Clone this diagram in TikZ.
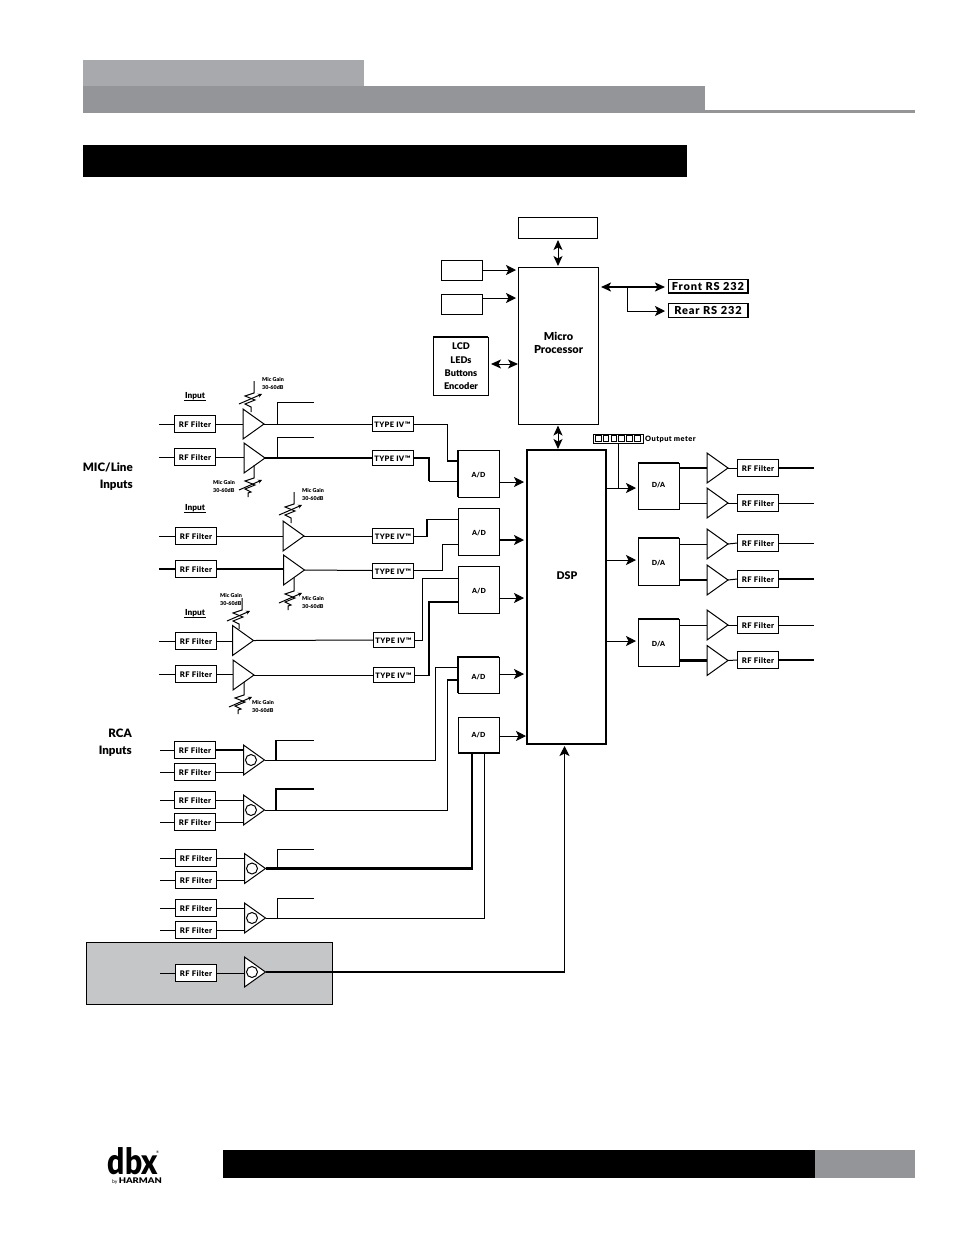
\documentclass[tikz,border=0pt]{standalone}
\usepackage{fontspec}
\setmainfont{Lato}[BoldFont={Lato Black}]
\usetikzlibrary{arrows.meta,shapes.geometric}
\definecolor{hdrA}{HTML}{A7A9AC}
\definecolor{hdrB}{HTML}{939598}
\definecolor{panel}{HTML}{C5C6C8}
\newcommand{\rheoT}[2]{\draw[thin line,shift={(#1,#2)}] (4,-18) -- (4,-6) -- (-5,-3) -- (5,1) -- (-5,5) -- (1,8) -- (1,13);
  \draw[thin line,-{Stealth[length=4,width=4]},shift={(#1,#2)}] (-11,5) -- (12,-5);}
\newcommand{\rheoB}[2]{\draw[thin line,shift={(#1,#2)}] (4,-20) -- (4,-7) -- (-5,-4) -- (5,0) -- (-5,4) -- (1,7) -- (-2,8) -- (-2,12);
  \draw[thin line,-{Stealth[length=4,width=4]},shift={(#1,#2)}] (-11,5) -- (12,-5);}
\tikzset{
  thin line/.style={line width=1pt,draw=black},
  fat line/.style={line width=2.2pt,draw=black},
  edge line/.style={line width=1.8pt,draw=black},
  head/.style={-{Stealth[length=10,width=10,inset=2.5]}},
  both/.style={{Stealth[length=10,width=9,inset=2.5]}-{Stealth[length=10,width=9,inset=2.5]}},
  box/.style={draw=black,line width=1pt,inner sep=0,outer sep=0,fill=white},
  rf/.style={box,minimum width=41,minimum height=17,text height=7.2pt,text depth=0pt,font=\fontsize{7.7}{9}\selectfont\bfseries\addfontfeature{LetterSpace=5}},
  typeiv/.style={box,minimum width=41,minimum height=15,text height=7.2pt,text depth=0pt,font=\fontsize{7.5}{9}\selectfont\bfseries\addfontfeature{LetterSpace=5}},
  conv/.style={box,minimum width=41,text height=8pt,text depth=0pt,font=\fontsize{7}{9}\selectfont\bfseries},
  amp/.style={isosceles triangle,isosceles triangle stretches,draw=black,line width=1pt,inner sep=0,outer sep=0,
    minimum width=30,minimum height=21,fill=white,anchor=apex},
  circ/.style={circle,draw=black,line width=1pt,inner sep=0,minimum size=11},
  gain/.style={font=\fontsize{5.4}{8}\selectfont\bfseries,align=left,inner sep=0},
  inlab/.style={font=\fontsize{8.3}{9}\selectfont\bfseries,inner sep=1},
  big/.style={font=\fontsize{11.6}{17}\selectfont\bfseries,align=right,inner sep=0},
  rs/.style={box,line width=1pt,minimum width=80,minimum height=13.5,text height=8.8pt,text depth=0pt,font=\fontsize{11}{12}\selectfont\bfseries\addfontfeature{LetterSpace=8}},
  seg/.style={draw=black,line width=1pt,minimum size=5.5,inner sep=0},
}
\begin{document}
\begin{tikzpicture}[x=1pt,y=-1pt]
\useasboundingbox (0,0) rectangle (954,1235);
% header and footer
\fill[hdrA] (83,60) rectangle (364,86);
\fill[hdrB] (83,86) rectangle (705,112.5);
\fill[hdrB] (705,110) rectangle (915,113);
\fill[black] (83,145) rectangle (687,177);
\fill[black] (223,1150) rectangle (815,1178);
\fill[hdrB] (815,1150) rectangle (915,1178);
\node[inner sep=0,font=\fontsize{30}{30}\selectfont\bfseries] (logo) at (133,1161) {\scalebox{1}[1.2]{dbx}};
\node[inner sep=0,font=\fontsize{3.5}{4}\selectfont] (logor) at (157.5,1152) {®};
\node[inner sep=0,anchor=east,font=\fontsize{7.8}{7.8}\selectfont] (logoh) at (162,1181) {{\fontsize{5}{5}\selectfont by }\scalebox{1.2}[1]{\textbf{HARMAN}}};
% gray panel
\draw[thin line,fill=panel] (86.5,942) rectangle (332.5,1004.5);
% left labels
\node[big,anchor=east] (miclab) at (133,476.5) {MIC/Line\\Inputs};
\node[big,anchor=east] (rcalab) at (132,742.5) {RCA\\Inputs};
\foreach \n/\y in {1/396,2/508,3/613}{
  \node[inlab] (inp\n) at (195,\y) {Input};
  \draw[thin line] (inp\n.south west) -- (inp\n.south east);
}
% input RF filters
\foreach \n/\x/\y in {1/195/424,2/195/457,3/196/536,4/196/569,5/196/641,6/196/674,
  7/195/750,8/195/772,9/195/800,10/195/822,11/196/858,12/196/880,13/196/908,14/196/930,15/196/973}{
  \node[rf] (r\n) at (\x,\y) {RF Filter};
}
% input amplifiers
\foreach \n/\x/\y in {1/264/424,2/265/458,3/304/536,4/304.5/570,5/253.5/640.5,6/254/675,
  7/264.5/760,8/264.5/810,9/265.5/868.5,10/265.5/918,11/265.5/972}{
  \node[amp] (a\n) at (\x,\y) {};
}
\foreach \n/\x/\y in {7/251/760,8/251/810,9/252/868.5,10/252/918,11/252/972}{
  \node[circ] (c\n) at (\x,\y) {};
}
% input wires
\foreach \n/\a in {1/1,2/2,3/3,5/5,6/6}{
  \coordinate (s\n) at (159,0);
  \draw[thin line] (s\n |- r\n.west) -- (r\n.west);
  \draw[thin line] (r\n.east) -- (a\a.west |- r\n.east);
}
\coordinate (s4) at (159,0);
\draw[fat line] (s4 |- r4.west) -- (r4.west);
\draw[fat line] (r4.east) -- (a4.west |- r4.east);
\foreach \n/\a in {7/7,8/7,9/8,10/8,11/9,12/9,13/10,14/10,15/11}{
  \coordinate (s\n) at (160,0);
  \draw[thin line] (s\n |- r\n.west) -- (r\n.west);
  \draw[thin line] (r\n.east) -- (a\a.west |- r\n.east);
}
\draw[fat line] (r7.east) -- (a7.west |- r7.east);
% gain controls
\rheoT{250}{399}
\rheoB{250}{485}
\rheoT{290}{510}
\rheoB{290}{598}
\rheoT{238}{616}
\rheoB{240}{702}
\node[gain,anchor=west] (g1) at (262,383) {Mic Gain\\30-60dB};
\node[gain,anchor=west] (g2) at (213,486.5) {Mic Gain\\30-60dB};
\node[gain,anchor=west] (g3) at (302,494.5) {Mic Gain\\30-60dB};
\node[gain,anchor=west] (g4) at (302,602) {Mic Gain\\30-60dB};
\node[gain,anchor=west] (g5) at (220,599) {Mic Gain\\30-60dB};
\node[gain,anchor=west] (g6) at (252,706) {Mic Gain\\30-60dB};
% Type IV
\foreach \n/\x/\y in {1/392.5/424,2/392.5/458,3/393/536,4/393/570.5,5/393.5/640,6/393.5/675}{
  \node[typeiv] (t\n) at (\x,\y) {TYPE IV™};
}
\draw[thin line] (a1.apex) -- (t1.west);
\draw[fat line] (a2.apex) -- (t2.west);
\draw[thin line] (a3.apex) -- (t3.west);
\draw[thin line] (a4.apex) -- (t4.west);
\draw[thin line] (a5.apex) -- (t5.west);
\draw[thin line] (a6.apex) -- (t6.west);
% branch stubs
\foreach \n/\x/\j/\t in {1/277/424/402,2/277/458/437,7/276/760/740,8/276/810/789,9/277/868.5/849,10/277/918/898}{
  \coordinate (j\n) at (\x,\j);
  \coordinate (e\n) at (314,\t);
}
\draw[thin line] (j1) |- (e1);
\draw[thin line] (j2) |- (e2);
\draw[fat line] (j7) -- (j7 |- e7);
\draw[thin line] (j7 |- e7) -- (e7);
\draw[fat line] (j8) |- (e8);
\draw[thin line] (j9) |- (e9);
\draw[thin line] (j10) |- (e10);
% A/D converters
\node[conv,minimum height=47] (ad1) at (478.5,473.5) {A/D};
\node[conv,minimum height=47] (ad2) at (479,531.5) {A/D};
\node[conv,minimum height=47] (ad3) at (479,589.5) {A/D};
\node[conv,minimum height=36] (ad4) at (478.5,675) {A/D};
\node[conv,minimum height=36,text height=5pt] (ad5) at (478.5,735) {A/D};
\draw[edge line] (ad1.south west) -- (ad1.north west);
\draw[edge line] (ad4.south west) -- (ad4.north west) -- (ad4.north east);
\draw[edge line] (ad5.south west) -- (ad5.south east);
% Type IV to A/D
\draw[thin line] (t1.east) -- (447,424) -- (447,461);
\draw[fat line] (447,461) -- (ad1.west |- 0,461);
\draw[fat line] (t2.east) -- (429,458) -- (429,481);
\draw[thin line] (429,481) -- (ad1.west |- 0,481);
\draw[thin line] (t3.east) -- (427,536);
\draw[fat line] (427,537) -- (427,519);
\draw[thin line] (427,519) -- (ad2.west |- 0,519);
\draw[thin line] (t4.east) -- (442,570.5) -- (442,544) -- (ad2.west |- 0,544);
\draw[thin line] (t5.east) -- (422,640) -- (422,578) -- (ad3.west |- 0,578);
\draw[thin line] (t6.east) -- (429,675);
\draw[fat line] (429,676) -- (429,602) -- (ad3.west |- 0,602);
% RCA amps to A/D
\draw[thin line] (a7.apex) -- (435,760) -- (435,667) -- (ad4.west |- 0,667);
\draw[thin line] (a8.apex) -- (447,810) -- (447,680);
\draw[fat line] (447,680) -- (ad4.west |- 0,680);
\draw[fat line] (a9.apex) -- (472,868.5) -- (472,753);
\draw[thin line] (a10.apex) -- (484,918) -- (484,753);
% DSP
\node[box,draw=none,minimum width=79,minimum height=294] (dsp) at (566.5,597) {};
\draw[edge line,line width=2pt] (dsp.north west) rectangle (dsp.south east);
\node[inner sep=0,font=\fontsize{10.6}{12}\selectfont\bfseries] (dsplab) at (567,575.5) {DSP};
\draw[thin line,head] (ad1.east |- 0,482) -- (524,482);
\draw[fat line,head] (ad2.east |- 0,540) -- (524,540);
\draw[thin line,head] (ad3.east |- 0,598) -- (524,598);
\draw[thin line,head] (ad4.east |- 0,674) -- (524,674);
\draw[thin line,head] (ad5.east |- 0,736) -- (526,736);
\draw[fat line] (a11.apex) -- (564.5,972);
\draw[thin line,head] (564.5,973) -- (564.5,746);
% Microprocessor section
\node[box,minimum width=80,minimum height=157] (micro) at (558,345.5) {};
\node[inner sep=0,align=center,font=\fontsize{11}{13}\selectfont\bfseries] (microlab) at (558.5,343) {Micro\\Processor};
\node[box,minimum width=79,minimum height=21] (top) at (558,227.5) {};
\node[box,minimum width=41,minimum height=20] (sm1) at (461.5,270) {};
\node[box,minimum width=41,minimum height=20] (sm2) at (461.5,304) {};
\node[box,minimum width=55,minimum height=58] (lcd) at (460.5,366) {};
\node[inner sep=0,align=center,font=\fontsize{9.2}{13.3}\selectfont\bfseries] (lcdlab) at (461,366.5) {LCD\\LEDs\\Buttons\\Encoder};
\draw[edge line] (lcd.north west) -- (lcd.north east);
\draw[thin line,both] (558,240) -- (558,266);
\draw[thin line,both] (558,425.5) -- (558,449);
\draw[thin line,head] (sm1.east) -- (516,270);
\draw[thin line,head] (sm2.east |- 0,298) -- (516,298);
\draw[thin line,both] (491,364) -- (518,364);
\node[rs] (front) at (708,286) {Front RS 232};
\node[rs] (rear) at (708,310.5) {Rear RS 232};
\draw[edge line,line width=1.6pt] (front.north east) -- (front.south east) -- (front.south west);
\draw[edge line,line width=1.6pt] (rear.north east) -- (rear.south east);
\coordinate (mport) at (601,287);
\coordinate (jrs) at (627,287);
\draw[edge line,both] (mport) -- (665,287);
\draw[thin line,head] (jrs) |- (665,311);
% D/A section
\node[conv,minimum height=46,text height=3pt] (da1) at (658.5,486) {D/A};
\node[conv,minimum height=47] (da2) at (658.5,561.5) {D/A};
\node[conv,minimum height=47] (da3) at (658.5,642.5) {D/A};
\foreach \n in {1,2,3}{\draw[edge line] (da\n.north west) -- (da\n.north east);}
\draw[thin line,head] (dsp.east |- 0,488) -- (636,488);
\draw[thin line,head] (dsp.east |- 0,560) -- (636,560);
\draw[thin line,head] (dsp.east |- 0,641) -- (636,641);
\node[box,minimum width=50,minimum height=9] (meter) at (618,438.5) {};
\foreach \i in {0,...,5}{\node[seg] (m\i) at ({598.3+7.8*\i},438.5) {};}
\coordinate (jm) at (618,488);
\draw[thin line] (meter.south) -- (jm);
\node[inner sep=0,anchor=west,font=\fontsize{7.4}{8}\selectfont\bfseries\addfontfeature{LetterSpace=6}] (mlab) at (645,439) {Output meter};
\foreach \n/\y/\t/\w in {1/468/468/fat line,2/503/503/thin line,3/543/544/thin line,4/579/580/fat line,5/625/625/thin line,6/660/660.5/fat line}{
  \node[amp] (oa\n) at (728,\t) {};
  \node[rf] (or\n) at (758,\y) {RF Filter};
  \coordinate (oe\n) at (814,\y);
  \draw[thin line] (oa\n.apex) -- (or\n.west);
  \draw[\w] (or\n.east) -- (oe\n);
}
\draw[fat line] (da1.east |- oa1.apex) -- (oa1.west |- oa1.apex);
\draw[thin line] (da1.east |- oa2.apex) -- (oa2.west |- oa2.apex);
\draw[thin line] (da2.east |- oa3.apex) -- (oa3.west |- oa3.apex);
\draw[fat line] (da2.east |- oa4.apex) -- (oa4.west |- oa4.apex);
\draw[thin line] (da3.east |- oa5.apex) -- (oa5.west |- oa5.apex);
\draw[fat line] (da3.east |- oa6.apex) -- (oa6.west |- oa6.apex);
\end{tikzpicture}
\end{document}
